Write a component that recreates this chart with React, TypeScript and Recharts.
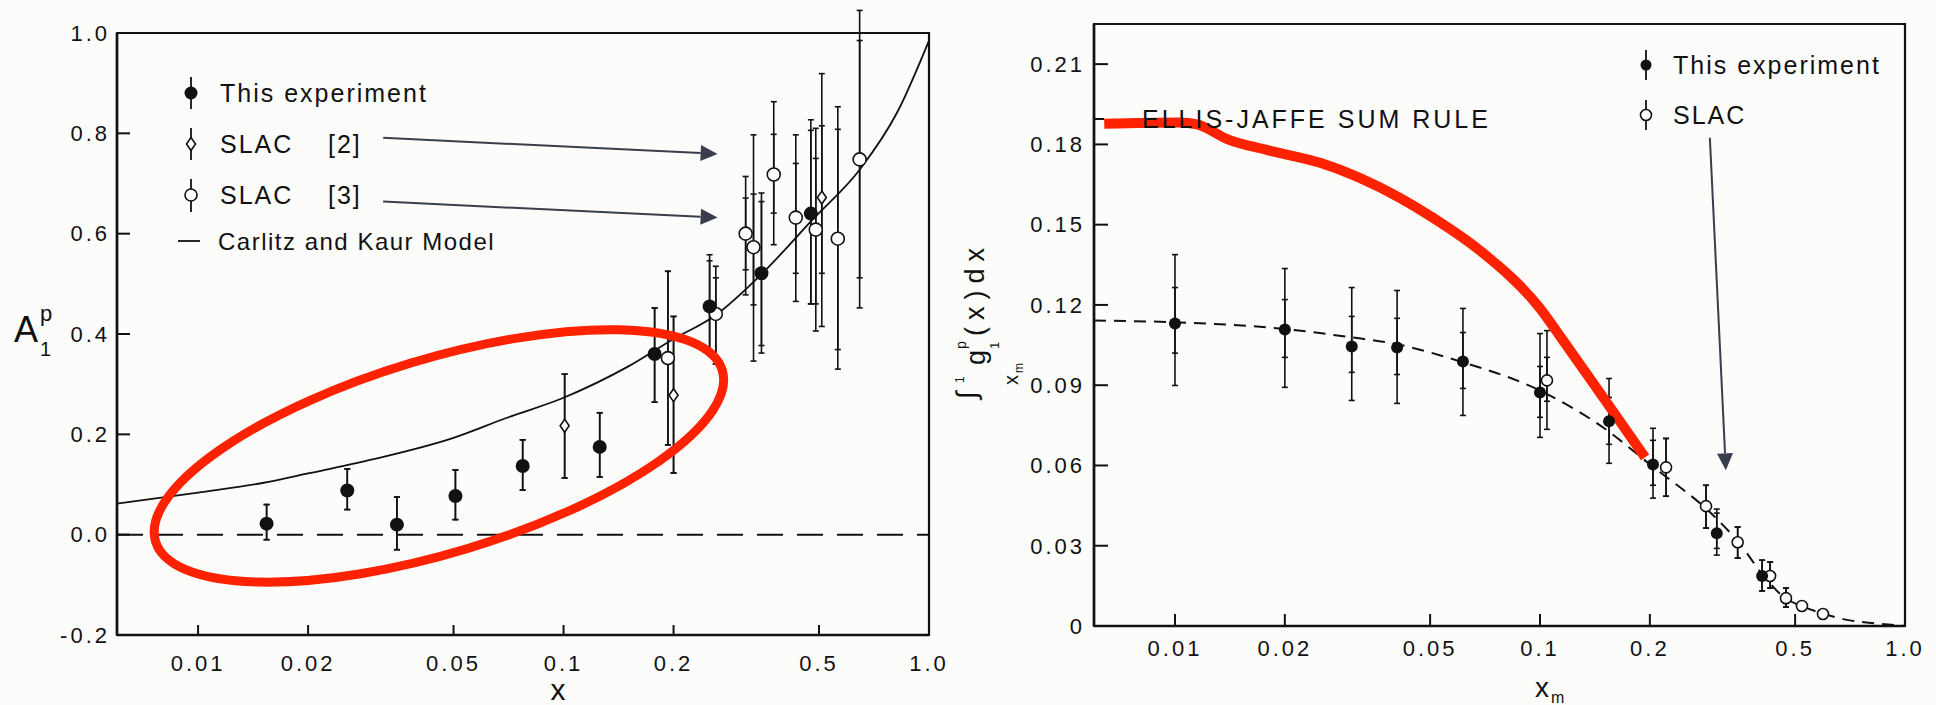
import React from 'react';
import {
  ComposedChart,
  ErrorBar,
  Line,
  ReferenceArea,
  ReferenceDot,
  ReferenceLine,
  Scatter,
  XAxis,
  YAxis,
} from 'recharts';

const xTicks = [0.01, 0.02, 0.05, 0.1, 0.2, 0.5, 1];
const a1Ticks = [-0.2, 0, 0.2, 0.4, 0.6, 0.8, 1.0];
const g1Ticks = [0, 0.03, 0.06, 0.09, 0.12, 0.15, 0.18, 0.21];

// A1p — x, value, total error bounds (lo/hi), inner stat ticks (slo/shi) where visible
const a1ThisExp = [
  { x: 0.0154, y: 0.022, lo: -0.01, hi: 0.06 },
  { x: 0.0256, y: 0.088, lo: 0.05, hi: 0.131 },
  { x: 0.035, y: 0.02, lo: -0.03, hi: 0.075 },
  { x: 0.0506, y: 0.077, lo: 0.03, hi: 0.129 },
  { x: 0.0773, y: 0.137, lo: 0.089, hi: 0.189 },
  { x: 0.1256, y: 0.175, lo: 0.115, hi: 0.243 },
  { x: 0.1775, y: 0.36, lo: 0.264, hi: 0.452 },
  { x: 0.251, y: 0.455, lo: 0.36, hi: 0.558, shi: 0.546 },
  { x: 0.348, y: 0.521, lo: 0.362, hi: 0.681, slo: 0.377, shi: 0.664 },
  { x: 0.475, y: 0.64, lo: 0.46, hi: 0.827, shi: 0.806 },
];

const a1Slac2 = [
  { x: 0.1007, y: 0.217, lo: 0.113, hi: 0.32 },
  { x: 0.2, y: 0.278, lo: 0.123, hi: 0.435 },
  { x: 0.509, y: 0.672, lo: 0.415, hi: 0.919, slo: 0.521, shi: 0.815 },
];

const a1Slac3 = [
  { x: 0.193, y: 0.352, lo: 0.179, hi: 0.525 },
  { x: 0.261, y: 0.44, lo: 0.34, hi: 0.535, shi: 0.512 },
  { x: 0.315, y: 0.6, lo: 0.478, hi: 0.714, slo: 0.528, shi: 0.671 },
  { x: 0.331, y: 0.573, lo: 0.346, hi: 0.797, slo: 0.458, shi: 0.679 },
  { x: 0.376, y: 0.718, lo: 0.578, hi: 0.863, slo: 0.641, shi: 0.798 },
  { x: 0.432, y: 0.632, lo: 0.465, hi: 0.797, slo: 0.521, shi: 0.74 },
  { x: 0.49, y: 0.608, lo: 0.406, hi: 0.81, slo: 0.46, shi: 0.75 },
  { x: 0.563, y: 0.59, lo: 0.33, hi: 0.853, slo: 0.369, shi: 0.808 },
  { x: 0.646, y: 0.748, lo: 0.452, hi: 1.045, slo: 0.512, shi: 0.985 },
];

const carlitzKaur = [
  { x: 0.006, y: 0.062 },
  { x: 0.01, y: 0.084 },
  { x: 0.015, y: 0.103 },
  { x: 0.02, y: 0.122 },
  { x: 0.03, y: 0.15 },
  { x: 0.05, y: 0.193 },
  { x: 0.07, y: 0.233 },
  { x: 0.1, y: 0.273 },
  { x: 0.15, y: 0.335 },
  { x: 0.2, y: 0.39 },
  { x: 0.26, y: 0.437 },
  { x: 0.35, y: 0.521 },
  { x: 0.48, y: 0.628 },
  { x: 0.65, y: 0.73 },
  { x: 0.82, y: 0.843 },
  { x: 1.0, y: 0.985 },
];

// integral of g1p from x_m to 1
const g1ThisExp = [
  { x: 0.01, y: 0.1131, lo: 0.0899, hi: 0.1388, slo: 0.102, shi: 0.1265 },
  { x: 0.02, y: 0.1108, lo: 0.0892, hi: 0.1336, slo: 0.1004, shi: 0.122 },
  { x: 0.0305, y: 0.1045, lo: 0.0843, hi: 0.1265, slo: 0.0948, shi: 0.1157 },
  { x: 0.0406, y: 0.1041, lo: 0.0832, hi: 0.1254, slo: 0.094, shi: 0.115 },
  { x: 0.0615, y: 0.0989, lo: 0.0787, hi: 0.1187, slo: 0.0888, shi: 0.1097 },
  { x: 0.1, y: 0.0873, lo: 0.0705, hi: 0.1093, slo: 0.078, shi: 0.097 },
  { x: 0.1546, y: 0.0765, lo: 0.0608, hi: 0.0925, slo: 0.0679, shi: 0.0854 },
  { x: 0.204, y: 0.0604, lo: 0.0478, hi: 0.0739, slo: 0.0526, shi: 0.0694 },
  { x: 0.305, y: 0.0347, lo: 0.0265, hi: 0.0437, slo: 0.029, shi: 0.0422 },
  { x: 0.406, y: 0.0187, lo: 0.0131, hi: 0.0246 },
];

const g1Slac = [
  { x: 0.1045, y: 0.0918, lo: 0.0735, hi: 0.1104, slo: 0.084, shi: 0.1004 },
  { x: 0.2215, y: 0.0593, lo: 0.0485, hi: 0.0701 },
  { x: 0.285, y: 0.0448, lo: 0.0366, hi: 0.0526 },
  { x: 0.348, y: 0.0313, lo: 0.0254, hi: 0.037 },
  { x: 0.427, y: 0.0187, lo: 0.0142, hi: 0.0239 },
  { x: 0.472, y: 0.0104, lo: 0.0071, hi: 0.0142 },
  { x: 0.522, y: 0.0075, lo: 0.0075, hi: 0.0075 },
  { x: 0.596, y: 0.0045, lo: 0.0045, hi: 0.0045 },
];

const g1Fit = [
  { x: 0.006, y: 0.1142 },
  { x: 0.01, y: 0.1135 },
  { x: 0.02, y: 0.111 },
  { x: 0.03, y: 0.108 },
  { x: 0.04, y: 0.1055 },
  { x: 0.06, y: 0.099 },
  { x: 0.1, y: 0.088 },
  { x: 0.15, y: 0.0739 },
  { x: 0.2, y: 0.0604 },
  { x: 0.3, y: 0.041 },
  { x: 0.35, y: 0.0313 },
  { x: 0.41, y: 0.0187 },
  { x: 0.47, y: 0.0104 },
  { x: 0.52, y: 0.0075 },
  { x: 0.6, y: 0.0045 },
  { x: 0.7, y: 0.0022 },
  { x: 0.83, y: 0.001 },
  { x: 1.0, y: 0 },
];

const redCurve = [
  { x: 0.0064, y: 0.1877 },
  { x: 0.0103, y: 0.1882 },
  { x: 0.0115, y: 0.1875 },
  { x: 0.0139, y: 0.182 },
  { x: 0.018, y: 0.1778 },
  { x: 0.025, y: 0.1731 },
  { x: 0.0413, y: 0.16 },
  { x: 0.0509, y: 0.1526 },
  { x: 0.0685, y: 0.1403 },
  { x: 0.1, y: 0.1187 },
  { x: 0.1157, y: 0.1067 },
  { x: 0.153, y: 0.0832 },
  { x: 0.194, y: 0.063 },
];

// annotations (data coordinates)
const ellipseCenter = { x: 0.0456, y: 0.157 };
const a1Arrows = [
  [{ x: 0.0321, y: 0.791 }, { x: 0.264, y: 0.759 }],
  [{ x: 0.0321, y: 0.664 }, { x: 0.264, y: 0.632 }],
];
const g1Arrow = [{ x: 0.292, y: 0.1825 }, { x: 0.323, y: 0.0582 }];
const ellisJaffe = { x: 0.00812, y: 0.1895 };
const ellisJaffeMark = [{ x: 0.006, y: 0.1895 }, { x: 0.0064, y: 0.1895 }];

const INK = '#111';
const RED = '#ff2200';
const ARROW = '#3a3d4d';
const FONT = '"Liberation Sans", Arial, sans-serif';

// scatter points carry pixel x/y, the original row sits in payload
const row = (d: any) => d.payload ?? d;
const totErr = (d: any) => {
  const r = row(d);
  return [r.y - r.lo, r.hi - r.y];
};
const statErr = (d: any) => {
  const r = row(d);
  return [r.y - (r.slo ?? r.lo), (r.shi ?? r.hi) - r.y];
};

const filled = (r: number) => (p: any) => <circle cx={p.cx} cy={p.cy} r={r} fill={INK} />;
const open = (r: number) => (p: any) => (
  <circle cx={p.cx} cy={p.cy} r={r} fill="#fff" stroke={INK} strokeWidth={1.6} />
);
const diamond = (p: any) => (
  <polygon
    points={`${p.cx},${p.cy - 6.5} ${p.cx + 4.5},${p.cy} ${p.cx},${p.cy + 6.5} ${p.cx - 4.5},${p.cy}`}
    fill="#fff"
    stroke={INK}
    strokeWidth={1.6}
  />
);

function ArrowShape(props: any) {
  const { x1, y1, x2, y2 } = props;
  const a = Math.atan2(y2 - y1, x2 - x1);
  const len = 17;
  const half = 8;
  const bx = x2 - len * Math.cos(a);
  const by = y2 - len * Math.sin(a);
  const pts = `${x2},${y2} ${bx + half * Math.sin(a)},${by - half * Math.cos(a)} ${bx - half * Math.sin(a)},${by + half * Math.cos(a)}`;
  return (
    <g>
      <line x1={x1} y1={y1} x2={bx} y2={by} stroke={ARROW} strokeWidth={2} />
      <polygon points={pts} fill={ARROW} />
    </g>
  );
}

const errorBars = () => [
  <ErrorBar key="tot" dataKey={totErr} direction="y" width={3} stroke={INK} strokeWidth={1.6} isAnimationActive={false} />,
  <ErrorBar key="stat" dataKey={statErr} direction="y" width={3} stroke={INK} strokeWidth={1.6} isAnimationActive={false} />,
];

const tickStyle = { fill: INK, fontSize: 22 };
const axisLine = { stroke: INK, strokeWidth: 2.6 };
const tickLine = { stroke: INK, strokeWidth: 2 };
const xFmt = (v: number) => (v === 1 ? '1.0' : String(v));

function A1Chart() {
  return (
    <ComposedChart width={980} height={705} margin={{ top: 33, right: 51, bottom: 30, left: 57 }}>
      <XAxis
        dataKey="x"
        type="number"
        scale="log"
        domain={[0.006, 1]}
        allowDataOverflow
        ticks={xTicks}
        interval={0}
        tickFormatter={xFmt}
        height={40}
        tickSize={-10}
        tickMargin={30}
        tick={tickStyle}
        axisLine={axisLine}
        tickLine={tickLine}
      />
      <YAxis
        dataKey="y"
        type="number"
        domain={[-0.2, 1.0]}
        allowDataOverflow
        ticks={a1Ticks}
        interval={0}
        tickFormatter={(v: number) => v.toFixed(1)}
        width={60}
        tickSize={-13}
        tickMargin={20}
        tick={tickStyle}
        axisLine={axisLine}
        tickLine={tickLine}
      />
      <ReferenceArea x1={0.006} x2={1} y1={-0.2} y2={1.0} fill="none" stroke={INK} strokeWidth={2.2} />
      <ReferenceLine y={0} stroke={INK} strokeWidth={2} strokeDasharray="26 14" />
      <Line
        data={carlitzKaur}
        dataKey="y"
        type="monotone"
        stroke={INK}
        strokeWidth={1.8}
        dot={false}
        activeDot={false}
        isAnimationActive={false}
      />
      <Scatter data={a1Slac3} shape={open(6.5)} isAnimationActive={false}>
        {errorBars()}
      </Scatter>
      <Scatter data={a1Slac2} shape={diamond} isAnimationActive={false}>
        {errorBars()}
      </Scatter>
      <Scatter data={a1ThisExp} shape={filled(7)} isAnimationActive={false}>
        {errorBars()}
      </Scatter>
      {a1Arrows.map((seg, i) => (
        <ReferenceLine key={i} segment={seg} shape={ArrowShape} />
      ))}
      <ReferenceDot
        x={ellipseCenter.x}
        y={ellipseCenter.y}
        r={0}
        shape={(p: any) => (
          <ellipse
            cx={p.cx}
            cy={p.cy}
            rx={296}
            ry={97}
            fill="none"
            stroke={RED}
            strokeWidth={9}
            transform={`rotate(-16.8 ${p.cx} ${p.cy})`}
          />
        )}
      />
    </ComposedChart>
  );
}

function G1Chart() {
  return (
    <ComposedChart width={956} height={705} margin={{ top: 24, right: 31, bottom: 39, left: 54 }}>
      <XAxis
        dataKey="x"
        type="number"
        scale="log"
        domain={[0.006, 1]}
        allowDataOverflow
        ticks={xTicks}
        interval={0}
        tickFormatter={xFmt}
        height={40}
        tickSize={-12}
        tickMargin={26}
        tick={tickStyle}
        axisLine={axisLine}
        tickLine={tickLine}
      />
      <YAxis
        dataKey="y"
        type="number"
        domain={[0, 0.225]}
        allowDataOverflow
        ticks={g1Ticks}
        interval={0}
        tickFormatter={(v: number) => (v === 0 ? '0' : v.toFixed(2))}
        width={60}
        tickSize={-14}
        tickMargin={23}
        tick={tickStyle}
        axisLine={axisLine}
        tickLine={tickLine}
      />
      <ReferenceArea x1={0.006} x2={1} y1={0} y2={0.225} fill="none" stroke={INK} strokeWidth={2.2} />
      <ReferenceLine segment={ellisJaffeMark} stroke={INK} strokeWidth={2} />
      <ReferenceDot
        x={ellisJaffe.x}
        y={ellisJaffe.y}
        r={0}
        shape={(p: any) => (
          <text x={p.cx} y={p.cy} dominantBaseline="central" fontSize={25} fill={INK}>
            ELLIS-JAFFE SUM RULE
          </text>
        )}
      />
      <Line
        data={g1Fit}
        dataKey="y"
        type="monotone"
        stroke={INK}
        strokeWidth={2}
        strokeDasharray="12 8"
        dot={false}
        activeDot={false}
        isAnimationActive={false}
      />
      <Scatter data={g1Slac} shape={open(5.5)} isAnimationActive={false}>
        {errorBars()}
      </Scatter>
      <Scatter data={g1ThisExp} shape={filled(6)} isAnimationActive={false}>
        {errorBars()}
      </Scatter>
      <Line
        data={redCurve}
        dataKey="y"
        type="monotone"
        stroke={RED}
        strokeWidth={10}
        dot={false}
        activeDot={false}
        isAnimationActive={false}
      />
      <ReferenceLine segment={g1Arrow} shape={ArrowShape} />
    </ComposedChart>
  );
}

function Overlay() {
  const t = { fill: INK, fontSize: 25, dominantBaseline: 'central' as const };
  return (
    <svg
      width={1936}
      height={705}
      style={{ position: 'absolute', left: 0, top: 0, pointerEvents: 'none', fontFamily: FONT, letterSpacing: '2px' }}
    >
      {/* left legend */}
      <line x1={191} y1={77} x2={191} y2={109} stroke={INK} strokeWidth={1.8} />
      <circle cx={191} cy={93} r={6.5} fill={INK} />
      <text x={220} y={93} {...t}>This experiment</text>
      <line x1={191} y1={128} x2={191} y2={160} stroke={INK} strokeWidth={1.8} />
      <polygon points="191,137.5 195.5,144 191,150.5 186.5,144" fill="#fff" stroke={INK} strokeWidth={1.6} />
      <text x={220} y={144} {...t}>SLAC</text>
      <text x={328} y={144} {...t}>[2]</text>
      <line x1={191} y1={179} x2={191} y2={212} stroke={INK} strokeWidth={1.8} />
      <circle cx={191} cy={195} r={6} fill="#fff" stroke={INK} strokeWidth={1.6} />
      <text x={220} y={195} {...t}>SLAC</text>
      <text x={328} y={195} {...t}>[3]</text>
      <line x1={178} y1={241} x2={200} y2={241} stroke={INK} strokeWidth={1.8} />
      <text x={218} y={241} {...t} fontSize={24} style={{ letterSpacing: '1.5px' }}>
        Carlitz and Kaur Model
      </text>

      {/* left axis titles */}
      <text x={14} y={342} fontSize={36} fill={INK}>A</text>
      <text x={40} y={321} fontSize={22} fill={INK}>p</text>
      <text x={40} y={356} fontSize={20} fill={INK}>1</text>
      <text x={559} y={700} fontSize={30} fill={INK} textAnchor="middle">x</text>

      {/* right legend */}
      <line x1={1646} y1={50} x2={1646} y2={80} stroke={INK} strokeWidth={1.8} />
      <circle cx={1646} cy={65} r={5.5} fill={INK} />
      <text x={1673} y={65} {...t}>This experiment</text>
      <line x1={1646} y1={100} x2={1646} y2={130} stroke={INK} strokeWidth={1.8} />
      <circle cx={1646} cy={115} r={5.5} fill="#fff" stroke={INK} strokeWidth={1.6} />
      <text x={1673} y={115} {...t}>SLAC</text>

      {/* right axis titles */}
      <text x={1535} y={697} fontSize={28} fill={INK}>x</text>
      <text x={1551} y={703} fontSize={16} fill={INK}>m</text>
      <g transform="rotate(-90 980 322)" fill={INK} style={{ letterSpacing: '0px' }}>
        <text x={903} y={318} fontSize={28}>∫</text>
        <text x={919} y={306} fontSize={12}>1</text>
        <text x={917} y={360} fontSize={20}>x</text>
        <text x={929} y={365} fontSize={12}>m</text>
        <text x={937} y={327} fontSize={27}>g</text>
        <text x={953} y={308} fontSize={14}>p</text>
        <text x={953} y={341} fontSize={13}>1</text>
        <text x={966} y={326} fontSize={27} textLength={88} lengthAdjust="spacing">
          (x)dx
        </text>
      </g>
    </svg>
  );
}

export default function App() {
  return (
    <div
      style={{
        position: 'absolute',
        left: 0,
        top: 0,
        width: 1936,
        height: 705,
        background: '#fcfcfa',
        overflow: 'hidden',
        fontFamily: FONT,
        letterSpacing: '3px',
      }}
    >
      <div style={{ position: 'absolute', left: 0, top: 0 }}>
        <A1Chart />
      </div>
      <div style={{ position: 'absolute', left: 980, top: 0 }}>
        <G1Chart />
      </div>
      <Overlay />
    </div>
  );
}
